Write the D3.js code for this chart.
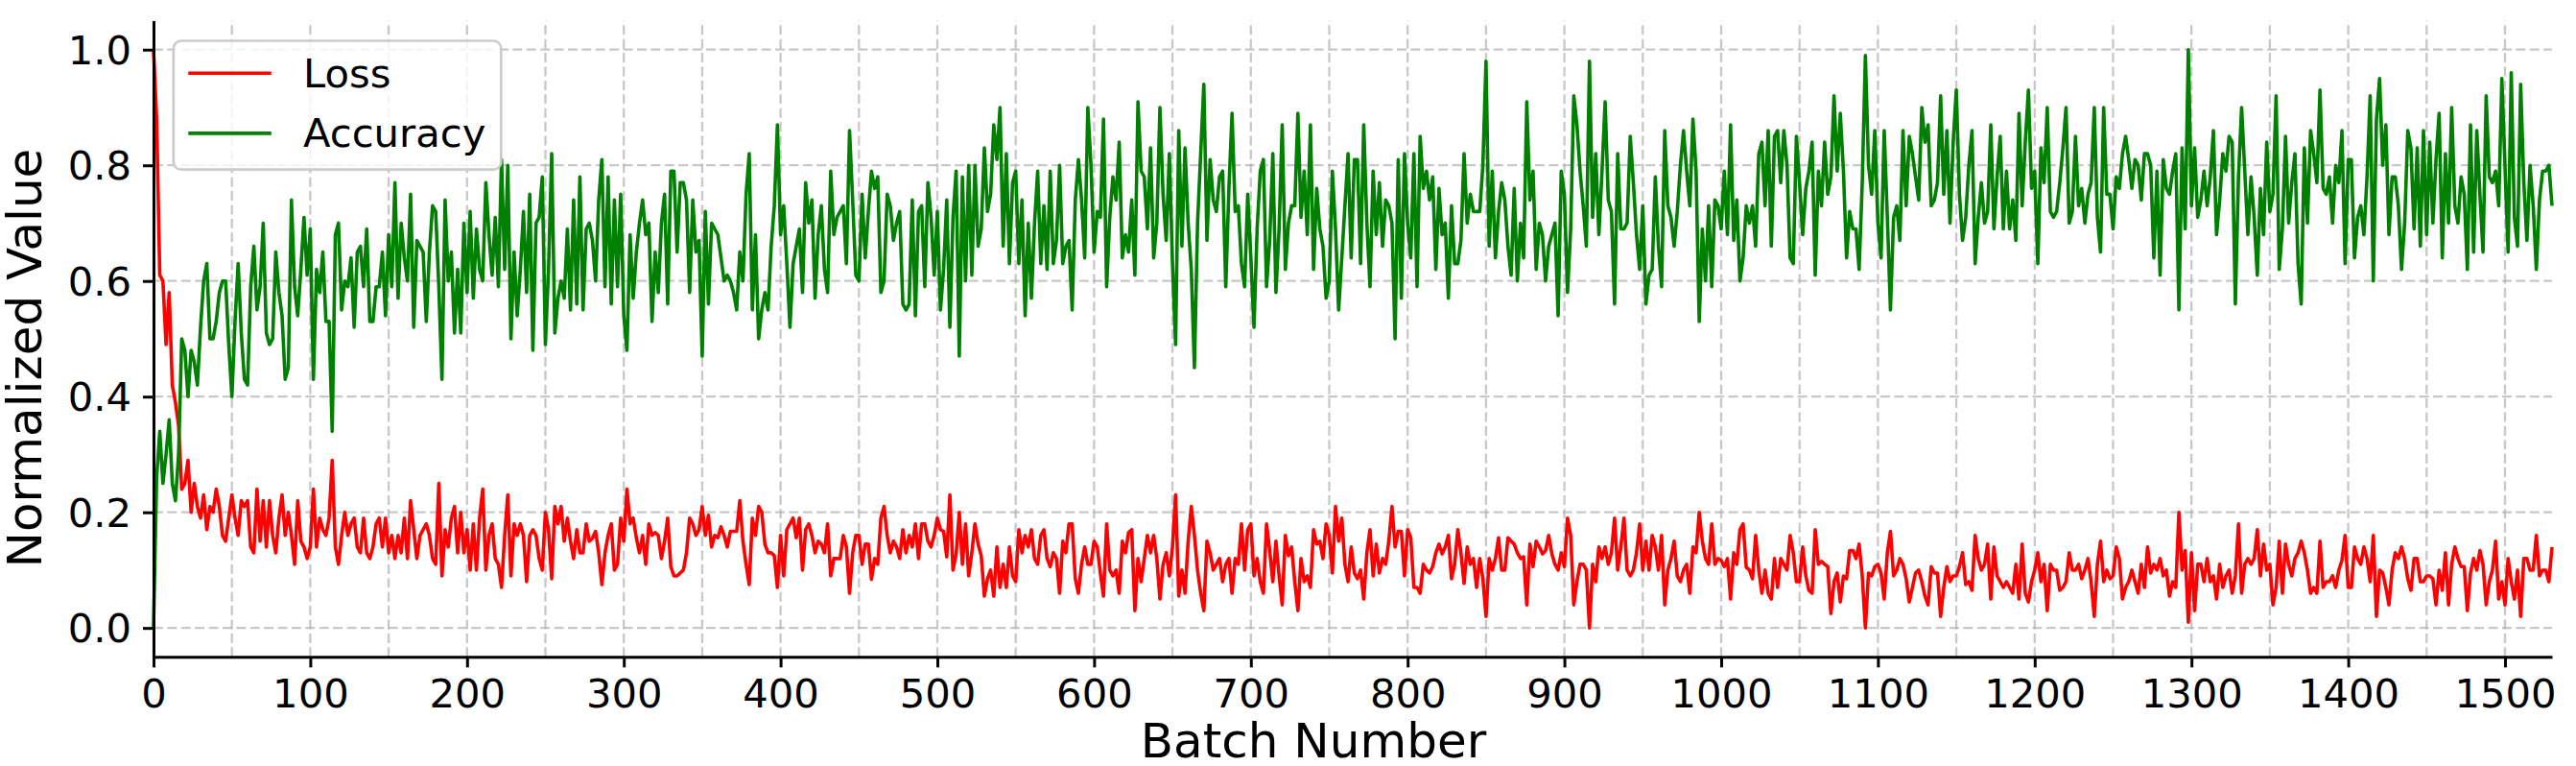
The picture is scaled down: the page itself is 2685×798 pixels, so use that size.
<!DOCTYPE html>
<html>
<head>
<meta charset="utf-8">
<script src="https://cdn.jsdelivr.net/npm/d3@7/dist/d3.min.js"></script>
<style>
  body { margin: 0; background: #fff; }
  svg text { font-family: "DejaVu Sans", sans-serif; fill: #000; }
</style>
</head>
<body>
<svg class="chart"></svg>
<script>
// one reading every 2 batches, batch 0 .. 1530
const batchStep = 2;

const lossValues = [
  1.0,0.88,0.61,0.6,0.49,0.58,0.42,0.39,0.35,
  0.24,0.25,0.29,0.2,0.25,0.21,0.19,0.23,0.17,0.21,0.2,0.24,0.21,0.16,0.15,0.19,0.23,
  0.19,0.16,0.22,0.21,0.22,0.14,0.13,0.24,0.15,0.22,0.14,0.22,0.16,0.13,0.19,0.23,0.16,0.2,0.16,0.11,0.22,0.15,0.14,0.12,0.14,
  0.24,0.14,0.19,0.17,0.16,0.19,0.29,0.14,0.11,0.16,0.2,0.16,0.18,0.19,0.14,0.13,0.19,0.13,0.12,0.14,0.18,0.19,0.14,0.19,0.13,
  0.16,0.12,0.16,0.13,0.19,0.12,0.22,0.17,0.12,0.16,0.17,0.18,0.16,0.12,0.11,0.25,0.09,0.17,0.14,0.19,0.21,0.13,0.2,0.13,0.17,
  0.1,0.18,0.1,0.19,0.24,0.1,0.16,0.18,0.12,0.11,0.07,0.16,0.23,0.09,0.18,0.16,0.18,0.16,0.08,0.16,0.17,0.16,0.12,
  0.1,0.2,0.17,0.085,0.21,0.18,0.21,0.15,0.19,0.15,0.12,0.17,0.13,0.13,0.18,0.15,0.155,0.167,0.13,0.075,0.13,0.16,0.18,0.1,0.11,0.19,0.15,
  0.24,0.18,0.19,0.156,0.13,0.16,0.11,0.18,0.16,0.165,0.16,0.12,0.15,0.19,0.106,0.09,0.09,0.095,0.1,0.13,0.19,0.18,0.16,0.17,0.21,
  0.16,0.195,0.14,0.16,0.156,0.175,0.16,0.14,0.167,0.167,0.167,0.22,0.15,0.11,0.075,0.19,0.16,0.21,0.2,0.145,0.13,0.13,0.125,0.07,0.16,
  0.09,0.17,0.18,0.19,0.156,0.19,0.1,0.17,0.18,0.16,0.13,0.15,0.145,0.13,0.18,0.09,0.12,0.12,0.12,0.16,0.14,0.06,0.13,0.16,0.16,
  0.11,0.145,0.145,0.084,0.12,0.11,0.19,0.21,0.16,0.13,0.15,0.14,0.12,0.17,0.13,0.16,0.14,0.18,0.12,0.18,0.18,0.15,0.14,0.16,0.19,0.17,
  0.167,0.123,0.23,0.1,0.128,0.2,0.11,0.18,0.09,0.13,0.18,0.145,0.125,0.055,0.085,0.1,0.055,0.14,0.07,0.11,0.07,0.14,0.09,0.08,
  0.17,0.13,0.16,0.14,0.17,0.12,0.11,0.16,0.17,0.12,0.106,0.13,0.12,0.06,0.15,0.13,0.18,0.18,0.085,0.06,0.11,0.14,0.11,0.11,0.15,
  0.14,0.095,0.055,0.18,0.1,0.09,0.1,0.06,0.15,0.13,0.165,0.17,0.03,0.12,0.08,0.12,0.16,0.13,0.16,0.12,0.05,0.11,0.13,0.09,0.14,
  0.23,0.055,0.1,0.06,0.15,0.21,0.16,0.1,0.06,0.03,0.15,0.13,0.1,0.11,0.12,0.08,0.11,0.12,0.06,0.12,0.11,0.18,0.1,0.17,0.18,
  0.09,0.12,0.08,0.06,0.18,0.134,0.08,0.15,0.09,0.04,0.16,0.125,0.14,0.08,0.03,0.12,0.08,0.09,0.07,0.17,0.145,0.15,0.12,0.18,0.16,0.095,
  0.21,0.15,0.19,0.11,0.08,0.14,0.095,0.085,0.1,0.05,0.13,0.17,0.09,0.145,0.095,0.12,0.11,0.15,0.21,0.14,0.167,0.167,0.09,0.17,
  0.156,0.07,0.07,0.06,0.11,0.1,0.095,0.106,0.13,0.145,0.128,0.14,0.16,0.085,0.11,0.17,0.13,0.077,0.14,0.11,0.12,0.07,0.12,0.085,0.02,
  0.12,0.1,0.12,0.156,0.1,0.1,0.156,0.15,0.145,0.13,0.12,0.123,0.04,0.145,0.106,0.15,0.14,0.128,0.134,0.16,0.128,0.11,0.1,0.13,0.106,
  0.19,0.16,0.04,0.08,0.11,0.11,0.1,0.0,0.11,0.08,0.14,0.12,0.14,0.11,0.13,0.19,0.1,0.14,0.19,0.1,0.09,0.1,0.13,0.18,0.1,
  0.15,0.1,0.16,0.14,0.1,0.16,0.04,0.1,0.12,0.15,0.09,0.08,0.1,0.11,0.06,0.14,0.13,0.2,0.15,0.12,0.11,0.18,0.11,0.12,0.117,0.106,
  0.12,0.05,0.13,0.11,0.17,0.18,0.105,0.1,0.085,0.16,0.1,0.06,0.1,0.06,0.05,0.12,0.07,0.12,0.11,0.1,0.16,0.13,0.08,0.08,
  0.14,0.09,0.065,0.06,0.17,0.11,0.115,0.11,0.106,0.025,0.08,0.095,0.045,0.09,0.085,0.134,0.134,0.12,0.145,0.09,0.0,0.095,0.09,0.106,0.11,
  0.095,0.05,0.13,0.167,0.09,0.1,0.12,0.11,0.085,0.045,0.07,0.095,0.1,0.08,0.055,0.04,0.106,0.095,0.095,0.02,0.07,0.106,0.08,0.09,0.09,
  0.106,0.13,0.075,0.08,0.065,0.16,0.12,0.1,0.11,0.145,0.05,0.14,0.09,0.08,0.07,0.08,0.07,0.06,0.11,0.05,0.145,0.06,0.045,0.08,0.1,
  0.13,0.08,0.11,0.03,0.11,0.1,0.1,0.065,0.07,0.08,0.13,0.1,0.1,0.11,0.085,0.1,0.12,0.08,0.02,0.11,0.15,0.08,0.1,0.085,0.09,0.14,
  0.12,0.05,0.07,0.08,0.1,0.08,0.06,0.11,0.07,0.14,0.095,0.11,0.1,0.12,0.09,0.1,0.055,0.08,0.07,0.2,0.1,0.134,0.01,0.13,
  0.03,0.11,0.11,0.08,0.12,0.08,0.09,0.05,0.11,0.07,0.09,0.1,0.06,0.09,0.18,0.06,0.11,0.12,0.11,0.12,0.17,0.09,0.145,0.1,0.11,
  0.04,0.07,0.15,0.06,0.145,0.11,0.09,0.12,0.13,0.15,0.13,0.1,0.06,0.07,0.06,0.15,0.07,0.08,0.08,0.09,0.07,0.1,0.117,0.16,0.07,
  0.07,0.14,0.12,0.11,0.14,0.12,0.08,0.16,0.02,0.1,0.095,0.07,0.04,0.1,0.13,0.12,0.14,0.12,0.085,0.065,0.12,0.12,0.08,0.08,0.09,
  0.09,0.085,0.04,0.1,0.065,0.13,0.04,0.11,0.14,0.12,0.106,0.106,0.03,0.095,0.12,0.1,0.134,0.11,0.04,0.08,0.1,0.15,0.05,0.08,0.04,
  0.12,0.08,0.05,0.1,0.02,0.12,0.12,0.1,0.1,0.16,0.09,0.1,0.1,0.08,0.14
];

const accuracyValues = [
  0.0,0.26,0.34,0.25,0.3,0.36,0.25,0.22,0.3,
  0.5,0.48,0.4,0.48,0.46,0.42,0.52,0.6,0.63,0.5,0.5,0.53,0.58,0.6,0.6,0.49,0.4,
  0.53,0.63,0.51,0.43,0.42,0.59,0.66,0.55,0.59,0.7,0.51,0.49,0.5,0.65,0.58,0.54,0.43,0.45,0.74,0.59,0.54,0.62,0.71,0.61,0.69,
  0.43,0.62,0.58,0.65,0.53,0.53,0.34,0.68,0.7,0.55,0.6,0.59,0.64,0.52,0.65,0.66,0.59,0.69,0.53,0.53,0.59,0.59,0.65,0.54,0.68,
  0.59,0.77,0.57,0.7,0.64,0.6,0.75,0.52,0.67,0.66,0.65,0.53,0.65,0.73,0.72,0.59,0.43,0.74,0.6,0.65,0.51,0.62,0.51,0.7,0.58,
  0.72,0.57,0.69,0.62,0.6,0.77,0.68,0.61,0.71,0.59,0.81,0.62,0.8,0.5,0.65,0.54,0.62,0.72,0.58,0.75,0.48,0.7,
  0.71,0.78,0.49,0.62,0.82,0.51,0.57,0.6,0.57,0.69,0.55,0.74,0.56,0.78,0.55,0.69,0.7,0.67,0.6,0.74,0.81,0.59,0.78,0.56,0.74,0.59,0.75,0.54,0.48,
  0.68,0.57,0.65,0.7,0.74,0.68,0.7,0.53,0.65,0.58,0.7,0.75,0.56,0.79,0.79,0.65,0.77,0.77,0.74,0.58,0.74,0.65,0.67,0.47,
  0.72,0.56,0.7,0.69,0.68,0.64,0.6,0.61,0.6,0.58,0.55,0.65,0.6,0.75,0.82,0.55,0.68,0.5,0.55,0.58,0.55,0.66,0.73,0.87,0.68,
  0.73,0.63,0.52,0.63,0.66,0.69,0.58,0.77,0.7,0.74,0.57,0.68,0.73,0.62,0.58,0.79,0.68,0.71,0.72,0.73,0.63,0.86,0.74,0.61,0.6,
  0.75,0.64,0.72,0.79,0.76,0.78,0.58,0.6,0.75,0.73,0.67,0.7,0.72,0.56,0.55,0.56,0.74,0.54,0.72,0.73,0.59,0.77,0.71,0.61,0.72,0.55,
  0.62,0.74,0.52,0.71,0.79,0.47,0.78,0.6,0.8,0.61,0.8,0.66,0.69,0.83,0.72,0.75,0.87,0.81,0.9,0.66,0.82,0.63,0.77,0.79,
  0.63,0.74,0.54,0.7,0.57,0.7,0.79,0.63,0.73,0.62,0.79,0.63,0.67,0.8,0.63,0.66,0.67,0.55,0.74,0.81,0.74,0.64,0.9,0.8,0.65,
  0.72,0.71,0.88,0.59,0.71,0.78,0.74,0.84,0.64,0.68,0.65,0.74,0.61,0.91,0.79,0.78,0.69,0.83,0.64,0.7,0.9,0.75,0.67,0.82,0.63,
  0.49,0.86,0.66,0.83,0.7,0.62,0.45,0.7,0.82,0.94,0.67,0.81,0.74,0.72,0.78,0.79,0.59,0.76,0.89,0.72,0.73,0.63,0.59,0.75,0.64,
  0.52,0.69,0.79,0.81,0.59,0.67,0.82,0.58,0.69,0.87,0.62,0.7,0.73,0.73,0.89,0.71,0.79,0.68,0.87,0.62,0.76,0.69,0.66,0.57,0.6,0.79,
  0.69,0.55,0.64,0.73,0.82,0.64,0.81,0.81,0.63,0.87,0.7,0.59,0.79,0.68,0.77,0.66,0.74,0.73,0.7,0.5,0.81,0.57,0.82,0.7,
  0.64,0.82,0.59,0.85,0.76,0.79,0.74,0.78,0.62,0.76,0.68,0.7,0.57,0.73,0.63,0.63,0.67,0.82,0.7,0.75,0.72,0.72,0.72,0.8,0.98,
  0.66,0.79,0.64,0.72,0.77,0.74,0.66,0.61,0.76,0.6,0.7,0.64,0.91,0.74,0.79,0.62,0.7,0.68,0.6,0.66,0.68,0.7,0.54,0.79,0.75,
  0.58,0.69,0.92,0.87,0.79,0.73,0.66,0.98,0.71,0.82,0.68,0.79,0.91,0.74,0.72,0.56,0.82,0.69,0.69,0.7,0.85,0.77,0.68,0.62,0.73,
  0.56,0.61,0.62,0.78,0.66,0.59,0.86,0.73,0.71,0.66,0.72,0.8,0.86,0.79,0.73,0.88,0.79,0.53,0.69,0.6,0.73,0.59,0.74,0.73,0.69,0.79,
  0.68,0.87,0.67,0.74,0.6,0.64,0.73,0.7,0.73,0.66,0.82,0.84,0.73,0.86,0.66,0.85,0.86,0.77,0.86,0.8,0.64,0.63,0.85,0.77,
  0.68,0.76,0.79,0.84,0.61,0.79,0.73,0.84,0.75,0.78,0.92,0.79,0.89,0.79,0.64,0.72,0.69,0.69,0.62,0.77,0.99,0.8,0.75,0.86,0.7,
  0.64,0.86,0.71,0.55,0.71,0.73,0.67,0.86,0.73,0.85,0.82,0.78,0.74,0.9,0.84,0.87,0.73,0.74,0.77,0.92,0.75,0.86,0.7,0.84,0.93,
  0.75,0.67,0.71,0.8,0.86,0.63,0.71,0.77,0.7,0.72,0.87,0.69,0.78,0.85,0.69,0.79,0.69,0.74,0.67,0.89,0.73,0.84,0.93,0.76,0.79,
  0.63,0.83,0.77,0.9,0.72,0.71,0.72,0.77,0.83,0.9,0.7,0.72,0.85,0.73,0.76,0.7,0.75,0.77,0.9,0.71,0.65,0.9,0.75,0.75,0.69,0.78,
  0.76,0.82,0.85,0.81,0.76,0.81,0.8,0.74,0.82,0.82,0.8,0.64,0.79,0.61,0.81,0.76,0.75,0.79,0.82,0.55,0.83,0.69,1.0,0.73,
  0.83,0.71,0.74,0.79,0.73,0.78,0.86,0.68,0.74,0.82,0.79,0.85,0.84,0.56,0.78,0.9,0.79,0.68,0.78,0.71,0.61,0.76,0.68,0.84,0.72,
  0.75,0.92,0.62,0.69,0.85,0.7,0.77,0.82,0.63,0.56,0.83,0.7,0.86,0.82,0.77,0.93,0.76,0.75,0.78,0.7,0.8,0.77,0.86,0.63,0.81,
  0.81,0.64,0.71,0.73,0.68,0.78,0.92,0.6,0.88,0.95,0.8,0.87,0.68,0.78,0.78,0.73,0.62,0.7,0.86,0.83,0.69,0.83,0.66,0.86,0.68,
  0.84,0.7,0.81,0.89,0.64,0.82,0.7,0.9,0.73,0.7,0.78,0.75,0.62,0.87,0.65,0.86,0.75,0.65,0.92,0.78,0.77,0.79,0.73,0.95,0.8,
  0.65,0.96,0.71,0.66,0.94,0.77,0.67,0.8,0.73,0.62,0.74,0.79,0.79,0.8,0.73
];

const seriesNames = ["Loss", "Accuracy"];
const seriesColors = ["#ff0000", "#008000"];
const xTicks = d3.range(0, 1501, 100);
const xGridValues = d3.range(0, 1501, 50);
const yTicks = [0.0, 0.2, 0.4, 0.6, 0.8, 1.0];

const margin = { top: 21.6, right: 25, bottom: 113.7, left: 160 };
const width = 2685 - margin.left - margin.right;
const height = 798 - margin.top - margin.bottom;

const x = d3.scaleLinear()
  .domain([0, 1530])
  .range([0, width]);

const y = d3.scaleLinear()
  .domain([-0.05, 1.05])
  .range([height, 0]);

const svg = d3.select('.chart')
    .attr('width', 2685)
    .attr('height', 798);

svg.append('rect')
  .attr('width', 2685)
  .attr('height', 798)
  .attr('fill', '#fff');

const chart = svg.append('g')
  .attr('transform', 'translate(' + margin.left + ',' + margin.top + ')');

// dashed grid, under the lines
const grid = chart.append('g').attr('class', 'grid')
  .attr('stroke', '#b0b0b0')
  .attr('stroke-opacity', 0.7)
  .attr('stroke-width', 2.3)
  .attr('stroke-dasharray', '10,4.4')
  .attr('fill', 'none');

grid.selectAll('.vgrid')
    .data(xGridValues)
  .enter().append('line')
    .attr('x1', d => x(d)).attr('x2', d => x(d))
    .attr('y1', height).attr('y2', 0);

grid.selectAll('.hgrid')
    .data(yTicks)
  .enter().append('line')
    .attr('x1', 0).attr('x2', width)
    .attr('y1', d => y(d)).attr('y2', d => y(d));

// series
const line = d3.line()
  .x((d, i) => x(i * batchStep))
  .y(d => y(d));

[lossValues, accuracyValues].forEach((values, k) => {
  chart.append('path')
    .datum(values)
    .attr('fill', 'none')
    .attr('stroke', seriesColors[k])
    .attr('stroke-width', 3.6)
    .attr('stroke-linejoin', 'round')
    .attr('d', line);
});

// axes
const xAxis = d3.axisBottom(x)
  .tickValues(xTicks)
  .tickFormat(d3.format('d'))
  .tickSize(11)
  .tickSizeOuter(0)
  .tickPadding(12.4);

const yAxis = d3.axisLeft(y)
  .tickValues(yTicks)
  .tickFormat(d3.format('.1f'))
  .tickSize(11)
  .tickSizeOuter(0)
  .tickPadding(12);

const gx = chart.append('g')
  .attr('class', 'x axis')
  .attr('transform', 'translate(0,' + height + ')')
  .call(xAxis);

const gy = chart.append('g')
  .attr('class', 'y axis')
  .call(yAxis);

[gx, gy].forEach(g => {
  g.select('.domain').attr('stroke', '#000').attr('stroke-width', 3);
  g.selectAll('.tick line').attr('stroke', '#000').attr('stroke-width', 3);
  g.selectAll('.tick text')
    .attr('fill', '#000')
    .style('font-family', '"DejaVu Sans", sans-serif')
    .style('font-size', '41.7px');
});
gy.selectAll('.tick text').attr('dy', '0.35em');

// axis titles (placed where the reference puts them)
svg.append('text')
  .attr('x', 1369)
  .attr('y', 789)
  .attr('text-anchor', 'middle')
  .style('font-size', '50px')
  .text('Batch Number');

svg.append('text')
  .attr('transform', 'translate(43,373) rotate(-90)')
  .attr('text-anchor', 'middle')
  .style('font-size', '50px')
  .text('Normalized Value');

// legend, upper left
const legend = svg.append('g').attr('class', 'legend')
  .attr('transform', 'translate(180.8,42.5)');

legend.append('rect')
  .attr('width', 341.5)
  .attr('height', 134.2)
  .attr('rx', 8)
  .attr('fill', '#fff')
  .attr('fill-opacity', 0.8)
  .attr('stroke', '#cccccc')
  .attr('stroke-width', 2.7);

const entry = legend.selectAll('.entry')
    .data(seriesNames)
  .enter().append('g')
    .attr('class', 'entry')
    .attr('transform', (d, i) => 'translate(0,' + (48.2 + i * 62.6) + ')');

entry.append('line')
  .attr('x1', 15.5).attr('x2', 102)
  .attr('y1', -14.4).attr('y2', -14.4)
  .attr('stroke', (d, i) => seriesColors[i])
  .attr('stroke-width', 3.6);

entry.append('text')
  .attr('x', 135.2)
  .style('font-size', '41.7px')
  .text(d => d);
</script>
</body>
</html>
